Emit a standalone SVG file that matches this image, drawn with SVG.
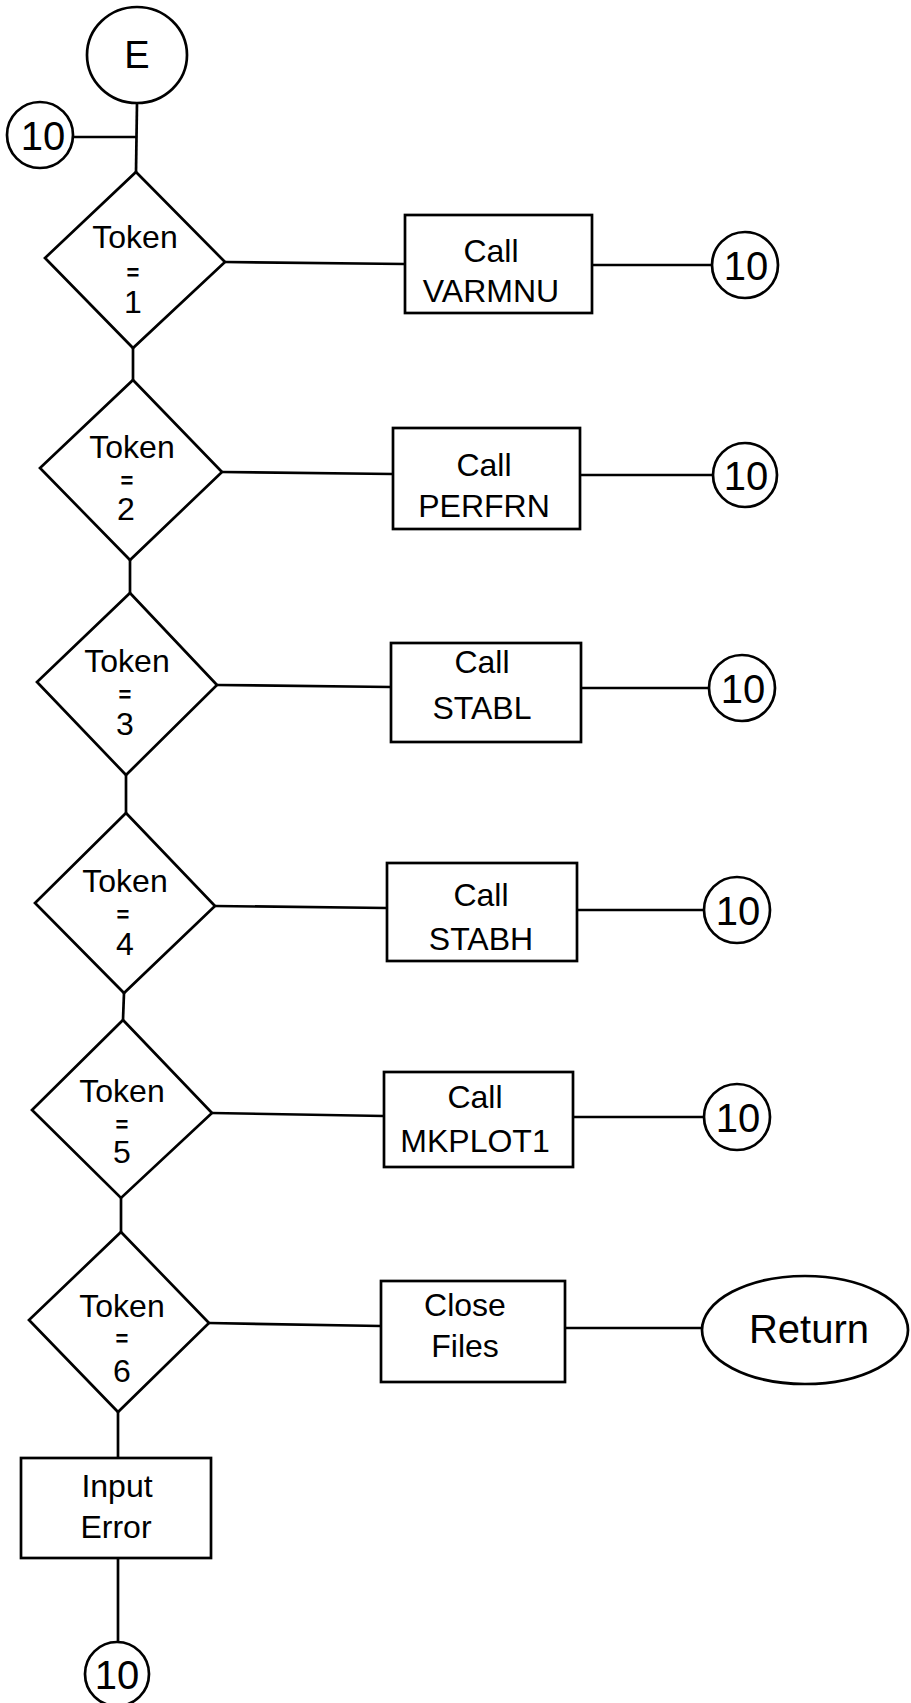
<svg xmlns="http://www.w3.org/2000/svg" width="911" height="1703" viewBox="0 0 911 1703">
<style>
.s{fill:#fff;stroke:#000;stroke-width:2.7}
.c line{stroke:#000;stroke-width:2.7}
text{font-family:"Liberation Sans",Arial,sans-serif;fill:#000;text-anchor:middle}
.t{font-size:32px}
.eq{font-size:22px;font-weight:bold}
.n{font-size:40px}
</style>
<rect width="911" height="1703" fill="#fff"/>
<g class="c" id="connectors">
<line x1="137" y1="103" x2="136" y2="172"/>
<line x1="73" y1="137" x2="137" y2="137"/>
<line x1="133" y1="348" x2="133" y2="380"/>
<line x1="130" y1="560" x2="130" y2="593"/>
<line x1="126" y1="775" x2="126" y2="813"/>
<line x1="124" y1="993" x2="123" y2="1020"/>
<line x1="121" y1="1198" x2="121" y2="1232"/>
<line x1="118" y1="1412" x2="118" y2="1458"/>
<line x1="118" y1="1558" x2="118" y2="1642"/>
<line x1="225" y1="262" x2="405" y2="264"/>
<line x1="592" y1="265" x2="712" y2="265"/>
<line x1="222" y1="472" x2="393" y2="474"/>
<line x1="580" y1="475" x2="713" y2="475"/>
<line x1="217" y1="685" x2="391" y2="687"/>
<line x1="581" y1="688" x2="709" y2="688"/>
<line x1="215" y1="906" x2="387" y2="908"/>
<line x1="577" y1="910" x2="704" y2="910"/>
<line x1="212" y1="1113" x2="384" y2="1116"/>
<line x1="573" y1="1117" x2="704" y2="1117"/>
<line x1="209" y1="1323" x2="381" y2="1326"/>
<line x1="565" y1="1328" x2="702" y2="1328"/>
</g>
<g id="start-E"><ellipse class="s" cx="137" cy="55" rx="50" ry="48"/><text x="137" y="68" style="font-size:38px">E</text></g>
<g id="conn-in"><circle class="s" cx="40" cy="135" r="33"/><text class="n" x="43" y="150">10</text></g>

<g id="dec1"><polygon class="s" points="136,172 225,262 133,348 45,258"/><text class="t" x="135" y="248">Token</text><text class="eq" x="133" y="280">=</text><text class="t" x="133" y="313">1</text></g>
<g id="dec2"><polygon class="s" points="133,380 222,472 130,560 40,468"/><text class="t" x="132" y="458">Token</text><text class="eq" x="127" y="488">=</text><text class="t" x="126" y="520">2</text></g>
<g id="dec3"><polygon class="s" points="130,593 217,685 126,775 37,682"/><text class="t" x="127" y="672">Token</text><text class="eq" x="125" y="702">=</text><text class="t" x="125" y="735">3</text></g>
<g id="dec4"><polygon class="s" points="126,813 215,906 124,993 35,903"/><text class="t" x="125" y="892">Token</text><text class="eq" x="123" y="922">=</text><text class="t" x="125" y="955">4</text></g>
<g id="dec5"><polygon class="s" points="123,1020 212,1113 121,1198 32,1110"/><text class="t" x="122" y="1102">Token</text><text class="eq" x="122" y="1132">=</text><text class="t" x="122" y="1163">5</text></g>
<g id="dec6"><polygon class="s" points="121,1232 209,1323 118,1412 29,1320"/><text class="t" x="122" y="1317">Token</text><text class="eq" x="122" y="1346">=</text><text class="t" x="122" y="1382">6</text></g>

<g id="box1"><rect class="s" x="405" y="215" width="187" height="98"/><text class="t" x="491" y="262">Call</text><text class="t" x="491" y="302">VARMNU</text></g>
<g id="box2"><rect class="s" x="393" y="428" width="187" height="101"/><text class="t" x="484" y="476">Call</text><text class="t" x="484" y="517">PERFRN</text></g>
<g id="box3"><rect class="s" x="391" y="643" width="190" height="99"/><text class="t" x="482" y="673">Call</text><text class="t" x="482" y="719">STABL</text></g>
<g id="box4"><rect class="s" x="387" y="863" width="190" height="98"/><text class="t" x="481" y="906">Call</text><text class="t" x="481" y="950">STABH</text></g>
<g id="box5"><rect class="s" x="384" y="1072" width="189" height="95"/><text class="t" x="475" y="1108">Call</text><text class="t" x="475" y="1152">MKPLOT1</text></g>
<g id="box6"><rect class="s" x="381" y="1281" width="184" height="101"/><text class="t" x="465" y="1316">Close</text><text class="t" x="465" y="1357">Files</text></g>
<g id="box-err"><rect class="s" x="21" y="1458" width="190" height="100"/><text class="t" x="117" y="1497">Input</text><text class="t" x="116" y="1538">Error</text></g>

<g id="c1"><circle class="s" cx="745" cy="265" r="33"/><text class="n" x="746" y="280">10</text></g>
<g id="c2"><circle class="s" cx="745" cy="475" r="32"/><text class="n" x="746" y="490">10</text></g>
<g id="c3"><circle class="s" cx="742" cy="688" r="33"/><text class="n" x="743" y="703">10</text></g>
<g id="c4"><circle class="s" cx="737" cy="910" r="33"/><text class="n" x="738" y="925">10</text></g>
<g id="c5"><circle class="s" cx="737" cy="1117" r="33"/><text class="n" x="738" y="1132">10</text></g>
<g id="c-bottom"><circle class="s" cx="117" cy="1674" r="32"/><text class="n" x="117" y="1689">10</text></g>
<g id="return"><ellipse class="s" cx="805" cy="1330" rx="103" ry="54"/><text x="809" y="1343" style="font-size:40px">Return</text></g>
</svg>
